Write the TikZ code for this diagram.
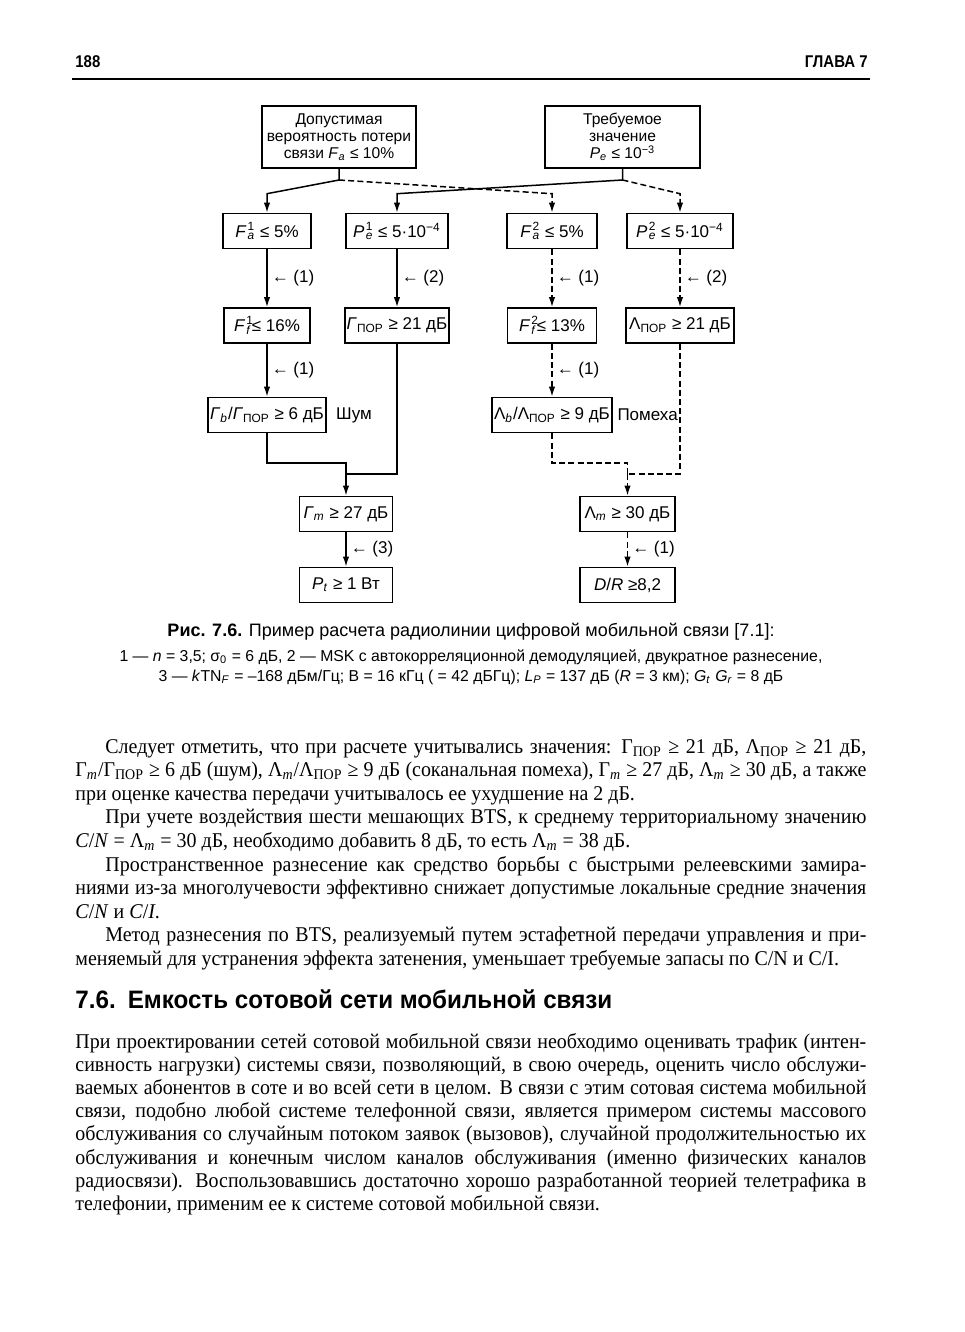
\documentclass[tikz,border=0pt]{standalone}
\usepackage{fontspec}
\setmainfont[FakeStretch=0.95]{Liberation Serif}
\newfontfamily\sffont{Liberation Sans}
\newfontfamily\headfont[FakeStretch=0.88]{Liberation Sans}
\newfontfamily\secfont[FakeStretch=0.96]{Liberation Sans}
\usetikzlibrary{positioning,arrows.meta}

% stacked sub- and superscript
\newcommand\sbsp[2]{\kern0.6pt\rlap{\raisebox{0.4pt}{\textsuperscript{#2}}}\textsubscript{#1}}
% one justified line and one last line of body text
\newcommand\jl[1]{\hbox to 395.5pt{#1}}
\newcommand\lastl[1]{\hbox{#1}}

\tikzset{
  box/.style={draw, line width=0.8pt, inner sep=1pt, minimum height=17.5pt,
    align=center, font=\sffont\fontsize{8.5}{10}\selectfont},
  topbox/.style={box, minimum height=31pt, font=\sffont\fontsize{7.8}{8.5}\selectfont},
  link/.style={line width=0.75pt},
  arr/.style={link, -{Latex[length=5pt,width=3.2pt]}},
  dsh/.style={dash pattern=on 3pt off 1.6pt},
  lbl/.style={anchor=west, xshift=2pt, inner sep=0pt, font=\sffont\fontsize{8.5}{10}\selectfont},
  side/.style={inner sep=0pt, font=\sffont\fontsize{8.5}{10}\selectfont},
}

\begin{document}
\begin{tikzpicture}[x=0.5pt, y=-0.5pt]
    \useasboundingbox (0,0) rectangle (964,1332);

    % page header
    \node[anchor=base west, inner sep=0pt, font=\headfont\bfseries\fontsize{8.5}{10}\selectfont] (pagenum) at (75,68) {188};
    \node[anchor=base east, inner sep=0pt, font=\headfont\bfseries\fontsize{8.5}{10}\selectfont] (chapter) at (868,68) {ГЛАВА 7};
    \draw[line width=1pt] (72,79) -- (870,79);

    % starting requirements
    \node[topbox, minimum width=77pt] (perm) at (339,137) {Допустимая\\вероятность потери\\связи \textit{F}\textsubscript{\textit{a}} ≤ 10\%};
    \node[topbox, minimum width=77.5pt] (req) at (622.5,137) {Требуемое\\значение\\\textit{P}\textsubscript{\textit{e}} ≤ 10\textsuperscript{−3}};

    % row 1
    \node[box, minimum width=44pt] (fa1) at (267,231) {\textit{F}\sbsp{\textit{a}}{1} ≤ 5\%};
    \node[box, minimum width=51pt] (pe1) at (397,231) {\textit{P}\sbsp{\textit{e}}{1} ≤ 5·10\textsuperscript{−4}};
    \node[box, minimum width=45pt] (fa2) at (552,231) {\textit{F}\sbsp{\textit{a}}{2} ≤ 5\%};
    \node[box, minimum width=53pt] (pe2) at (680,231) {\textit{P}\sbsp{\textit{e}}{2} ≤ 5·10\textsuperscript{−4}};

    % row 2
    \node[box, minimum width=43pt] (ff1) at (267,325.5) {\textit{F}\sbsp{\textit{f}}{1}≤ 16\%};
    \node[box, minimum width=51.5pt] (gpor) at (397,325.5) {\textit{Γ}\textsubscript{ПОР} ≥ 21 дБ};
    \node[box, minimum width=44.5pt] (ff2) at (552,325.5) {\textit{F}\sbsp{\textit{f}}{2}≤ 13\%};
    \node[box, minimum width=54pt] (lpor) at (680,325.5) {Λ\textsubscript{ПОР} ≥ 21 дБ};

    % row 3
    \node[box, minimum width=59pt] (gb) at (267,415) {\textit{Γ}\textsubscript{\textit{b}}/\textit{Γ}\textsubscript{ПОР} ≥ 6 дБ};
    \node[side, right=4.5pt of gb] (noise) {Шум};
    \node[box, minimum width=57.5pt] (lb) at (552,415) {Λ\textsubscript{\textit{b}}/Λ\textsubscript{ПОР} ≥ 9 дБ};
    \node[side, right=2.2pt of lb] (interf) {Помеха};

    % rows 4 and 5
    \node[box, minimum width=46.5pt] (gm) at (346,514) {\textit{Γ}\textsubscript{\textit{m}} ≥ 27 дБ};
    \node[box, minimum width=47.5pt] (lm) at (627.5,514) {Λ\textsubscript{\textit{m}} ≥ 30 дБ};
    \node[box, minimum width=46.5pt] (pt) at (346,585) {\textit{P}\textsubscript{\textit{t}} ≥ 1 Вт};
    \node[box, minimum width=47.5pt] (dr) at (627.5,585) {\textit{D}/\textit{R} ≥8,2};

    % split of the requirements
    \coordinate (jp) at (339,180);
    \coordinate (jr) at (622.5,180);
    \draw[arr] (perm.south) -- (jp) -- ([yshift=9.5pt]fa1.north) -- (fa1.north);
    \draw[arr, dsh] (jp) -- ([yshift=9.5pt]fa2.north) -- (fa2.north);
    \draw[arr] (req.south) -- (jr) -- ([yshift=9.5pt]pe1.north) -- (pe1.north);
    \draw[arr, dsh] (jr) -- ([yshift=9.5pt]pe2.north) -- (pe2.north);

    % vertical steps
    \draw[arr] (fa1.south) -- node[lbl]{← (1)} (ff1.north);
    \draw[arr] (pe1.south) -- node[lbl]{← (2)} (gpor.north);
    \draw[arr, dsh] (fa2.south) -- node[lbl]{← (1)} (ff2.north);
    \draw[arr, dsh] (pe2.south) -- node[lbl]{← (2)} (lpor.north);
    \draw[arr] (ff1.south) -- node[lbl]{← (1)} (gb.north);
    \draw[arr, dsh] (ff2.south) -- node[lbl]{← (1)} (lb.north);

    % merging into the margins
    \coordinate (jg) at (346,474);
    \coordinate (jl) at (627.5,474);
    \draw[link] (gb.south) |- ([yshift=5.5pt]jg) -- (jg);
    \draw[link] (gpor.south) |- (jg);
    \draw[arr] (jg) -- (gm.north);
    \draw[link, dsh] (lb.south) |- ([yshift=5.5pt]jl) -- (jl);
    \draw[link, dsh] (lpor.south) |- (jl);
    \draw[arr, dsh] (jl) -- (lm.north);
    \draw[arr] (gm.south) -- node[lbl]{← (3)} (pt.north);
    \draw[arr, dsh] (lm.south) -- node[lbl]{← (1)} (dr.north);

    % caption
    \node[font=\sffont\fontsize{9}{10}\selectfont] (cap) at (471,632) {\textbf{Рис. 7.6.} Пример расчета радиолинии цифровой мобильной связи [7.1]:};
    \node[below=1pt of cap, align=center, inner sep=0pt, font=\sffont\fontsize{7.9}{9.8}\selectfont] (capnote) {1 — \textit{n} = 3,5; σ\textsubscript{0} = 6 дБ, 2 — MSK с автокорреляционной демодуляцией, двукратное разнесение,\\
      3 — \textit{k}TN\textsubscript{\textit{F}} = –168 дБм/Гц; B = 16 кГц ( = 42 дБГц); \textit{L}\textsubscript{\textit{P}} = 137 дБ (\textit{R} = 3 км); \textit{G}\textsubscript{\textit{t}}~\textit{G}\textsubscript{\textit{r}} = 8 дБ};

    % body text
    \node[anchor=base west, inner sep=0pt] (body) at (75,753) {\parbox[t]{395.5pt}{\fontsize{10.5}{11.8}\selectfont
      \jl{\kern15pt Следует отметить, что при расчете учитывались значения: Γ\textsubscript{ПОР} ≥ 21 дБ, Λ\textsubscript{ПОР} ≥ 21 дБ,}
      \jl{Γ\textsubscript{\textit{m}}/Γ\textsubscript{ПОР} ≥ 6 дБ (шум), Λ\textsubscript{\textit{m}}/Λ\textsubscript{ПОР} ≥ 9 дБ (соканальная помеха), Γ\textsubscript{\textit{m}} ≥ 27 дБ, Λ\textsubscript{\textit{m}} ≥ 30 дБ, а также}
      \lastl{при оценке качества передачи учитывалось ее ухудшение на 2 дБ.}
      \jl{\kern15pt При учете воздействия шести мешающих BTS, к среднему территориальному значению}
      \lastl{\textit{C}/\textit{N} = Λ\textsubscript{\textit{m}} = 30 дБ, необходимо добавить 8 дБ, то есть Λ\textsubscript{\textit{m}} = 38 дБ.}
      \jl{\kern15pt Пространственное разнесение как средство борьбы с быстрыми релеевскими замира-}
      \jl{ниями из-за многолучевости эффективно снижает допустимые локальные средние значения}
      \lastl{\textit{C}/\textit{N} и \textit{C}/\textit{I}.}
      \jl{\kern15pt Метод разнесения по BTS, реализуемый путем эстафетной передачи управления и при-}
      \lastl{меняемый для устранения эффекта затенения, уменьшает требуемые запасы по C/N и C/I.}}};

    \node[anchor=base west, inner sep=0pt, font=\secfont\bfseries\fontsize{12.6}{14}\selectfont] (section) at (75,1008) {7.6.\hspace{6pt}Емкость сотовой сети мобильной связи};

    \node[anchor=base west, inner sep=0pt] (body2) at (75,1048) {\parbox[t]{395.5pt}{\fontsize{10.5}{11.6}\selectfont
      \jl{При проектировании сетей сотовой мобильной связи необходимо оценивать трафик (интен-}
      \jl{сивность нагрузки) системы связи, позволяющий, в свою очередь, оценить число обслужи-}
      \jl{ваемых абонентов в соте и во всей сети в целом. В связи с этим сотовая система мобильной}
      \jl{связи, подобно любой системе телефонной связи, является примером системы массового}
      \jl{обслуживания со случайным потоком заявок (вызовов), случайной продолжительностью их}
      \jl{обслуживания и конечным числом каналов обслуживания (именно физических каналов}
      \jl{радиосвязи). Воспользовавшись достаточно хорошо разработанной теорией телетрафика в}
      \lastl{телефонии, применим ее к системе сотовой мобильной связи.}}};
\end{tikzpicture}
\end{document}
